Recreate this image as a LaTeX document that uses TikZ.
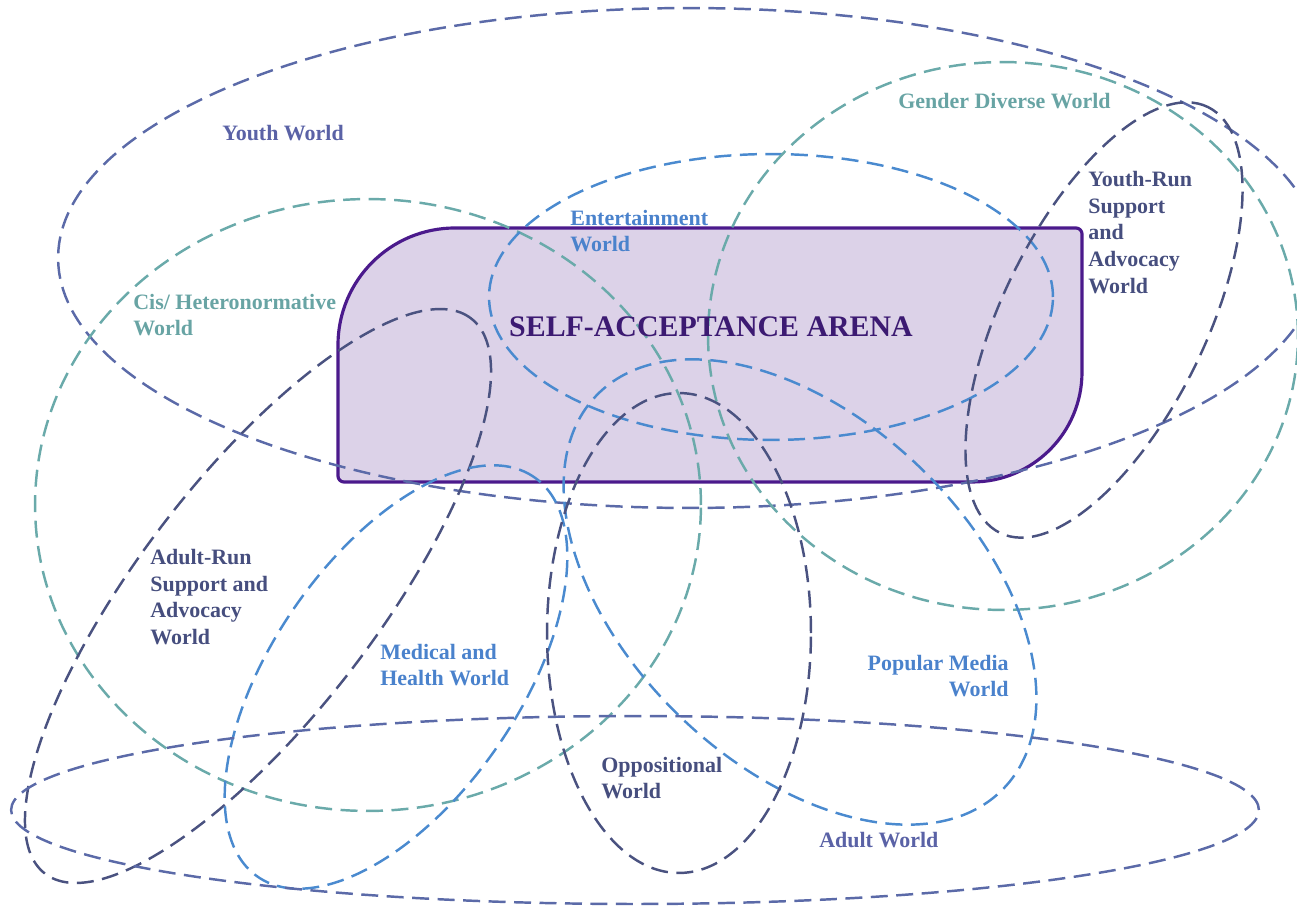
\documentclass[tikz,border=0pt]{standalone}
\usepackage{fontspec}
\setmainfont{Liberation Serif}
\definecolor{slateblue}{HTML}{5B6AA8}
\definecolor{tealc}{HTML}{6AAAAA}
\definecolor{bluec}{HTML}{4A8ACF}
\definecolor{darkslate}{HTML}{4A5280}
\definecolor{arenafill}{HTML}{DCD2E8}
\definecolor{arenaline}{HTML}{4B1A8C}
\definecolor{arenatext}{HTML}{3C1A72}
\definecolor{youthtxt}{HTML}{5A62A6}
\definecolor{tealtxt}{HTML}{68A4A4}
\definecolor{bluetxt}{HTML}{4A82CC}
\definecolor{darktxt}{HTML}{464E7E}
\begin{document}
\begin{tikzpicture}[x=0.02cm, y=-0.02cm,
  world/.style={line width=1.4pt, dash pattern=on 0.34cm off 0.17cm},
  lbl/.style={font=\fontsize{12.5}{15.3}\selectfont\bfseries, inner sep=0pt, align=left, anchor=west},
  titlelbl/.style={font=\fontsize{17}{20}\selectfont\bfseries, inner sep=0pt, text=arenatext},
  arena/.style={draw=arenaline, fill=arenafill, line width=1.8pt, line join=round}]
\useasboundingbox (0,0) rectangle (1297,911);
\clip (0,0) rectangle (1297,911);

% central arena: rounded top-left and bottom-right corners
\draw[arena] (338,345) .. controls (338,280.4) and (390.4,228) .. (455,228)
  -- (1076,228) .. controls (1079.3,228) and (1082,230.7) .. (1082,234)
  -- (1082,372) .. controls (1082,432.8) and (1032.8,482) .. (972,482)
  -- (344,482) .. controls (340.7,482) and (338,479.3) .. (338,476) -- cycle;

% worlds
\draw[world, slateblue] (689,258) ellipse [x radius=12.62cm, y radius=5cm];
\draw[world, tealc] (368,505) ellipse [x radius=6.66cm, y radius=6.12cm];
\draw[world, bluec] (771,297) ellipse [x radius=5.64cm, y radius=2.86cm];
\draw[world, tealc] (1003,336) ellipse [x radius=5.9cm, y radius=5.48cm];
\draw[world, darkslate, rotate around={64:(1104,320)}] (1104,320) ellipse [x radius=4.74cm, y radius=2.04cm];
\draw[world, darkslate, rotate around={52.5:(258,596)}] (258,596) ellipse [x radius=7cm, y radius=2.38cm];
\draw[world, bluec, rotate around={55.3:(396,677)}] (396,677) ellipse [x radius=4.86cm, y radius=2.46cm];
\draw[world, bluec, rotate around={-44:(800,592)}] (800,592) ellipse [x radius=5.66cm, y radius=3.46cm];
\draw[world, darkslate] (679,633) ellipse [x radius=2.64cm, y radius=4.8cm];
\draw[world, slateblue] (635,810) ellipse [x radius=12.48cm, y radius=1.88cm];

% labels
\node[lbl, text=youthtxt] (youth) at (222,133) {Youth World};
\node[lbl, text=tealtxt] (gender) at (898,101) {Gender Diverse World};
\node[lbl, text=darktxt] (yrun) at (1088,232.5) {Youth-Run\\Support\\and\\Advocacy\\World};
\node[lbl, text=bluetxt] (ent) at (570,231) {Entertainment\\World};
\node[lbl, text=tealtxt] (cis) at (133,315) {Cis/ Heteronormative\\World};
\node[titlelbl] (arenalbl) at (711,327) {SELF-ACCEPTANCE ARENA};
\node[lbl, text=darktxt] (arun) at (150,597) {Adult-Run\\Support and\\Advocacy\\World};
\node[lbl, text=bluetxt] (med) at (380,665) {Medical and\\Health World};
\node[lbl, text=bluetxt, align=right, anchor=east] (pm) at (1009,676) {Popular Media\\World};
\node[lbl, text=darktxt] (opp) at (601,778) {Oppositional\\World};
\node[lbl, text=youthtxt] (adult) at (819,840) {Adult World};
\end{tikzpicture}
\end{document}
